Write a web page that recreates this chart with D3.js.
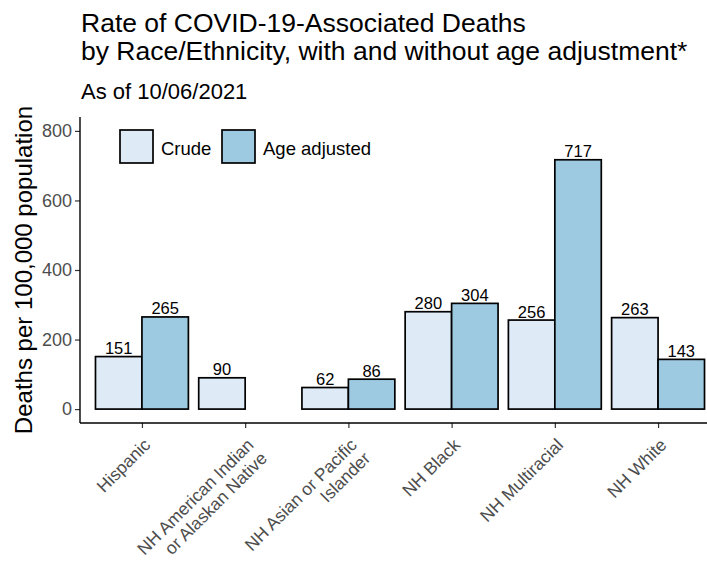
<!DOCTYPE html>
<html>
<head>
<meta charset="utf-8">
<script src="https://cdn.jsdelivr.net/npm/d3@7"></script>
<style>
  html, body { margin: 0; padding: 0; background: #fff; }
  svg { display: block; font-family: "Liberation Sans", Arial, sans-serif; }
</style>
</head>
<body>
<svg id="chart" width="707" height="566"></svg>
<script>
// Race/ethnicity groups (line breaks marked with \n)
const categories = [
  "Hispanic",
  "NH American Indian\nor Alaskan Native",
  "NH Asian or Pacific\nIslander",
  "NH Black",
  "NH Multiracial",
  "NH White"
];
const seriesNames = ["Crude", "Age adjusted"];
// Deaths per 100,000 population; null = not reported
const crude = [151, 90, 62, 280, 256, 263];
const ageAdjusted = [265, null, 86, 304, 717, 143];
const yTicks = [0, 200, 400, 600, 800];
const colors = ["#DEEBF7", "#9ECAE1"];

const svg = d3.select("#chart");
const panel = { left: 80, right: 720, top: 117, bottom: 423 };

// discrete x with 0.6-step expansion on each side
const step = (panel.right - panel.left) / (categories.length - 1 + 1.2);
const x = d3.scalePoint()
  .domain(categories)
  .range([panel.left + 0.6 * step, panel.right - 0.6 * step]);
const dodge = d3.scaleBand()
  .domain(seriesNames)
  .range([-0.45 * step, 0.45 * step])
  .padding(0);
const y = d3.scaleLinear().domain([-40, 840]).range([panel.bottom, panel.top]);

const rows = [];
categories.forEach((c, i) => {
  rows.push({ cat: c, series: seriesNames[0], value: crude[i], color: colors[0] });
  rows.push({ cat: c, series: seriesNames[1], value: ageAdjusted[i], color: colors[1] });
});
const present = rows.filter(d => d.value != null);

// bars
svg.append("g").selectAll("rect")
  .data(present)
  .join("rect")
  .attr("x", d => x(d.cat) + dodge(d.series))
  .attr("width", dodge.bandwidth())
  .attr("y", d => y(d.value))
  .attr("height", d => y(0) - y(d.value))
  .attr("fill", d => d.color)
  .attr("stroke", "#000")
  .attr("stroke-width", 1.7);

// value labels
svg.append("g").selectAll("text")
  .data(present)
  .join("text")
  .attr("x", d => x(d.cat) + dodge(d.series) + dodge.bandwidth() / 2)
  .attr("y", d => y(d.value) - 2.5)
  .attr("text-anchor", "middle")
  .attr("font-size", 16.5)
  .attr("fill", "#000")
  .text(d => d.value);

// y axis
const yAxis = svg.append("g")
  .attr("transform", `translate(${panel.left},0)`)
  .call(d3.axisLeft(y).tickValues(yTicks).tickSize(5).tickPadding(3));
yAxis.select(".domain").remove();
yAxis.append("line")
  .attr("x1", 0).attr("x2", 0)
  .attr("y1", panel.top).attr("y2", panel.bottom)
  .attr("stroke", "#000").attr("stroke-width", 1.4);
yAxis.selectAll(".tick line").attr("stroke", "#333").attr("stroke-width", 1.2);
yAxis.selectAll(".tick text")
  .attr("font-size", 18)
  .attr("fill", "#4D4D4D")
  .attr("font-family", "Liberation Sans, Arial, sans-serif");

// x axis
const xAxis = svg.append("g")
  .attr("transform", `translate(0,${panel.bottom})`)
  .call(d3.axisBottom(x).tickSize(5).tickPadding(4).tickFormat(""));
xAxis.select(".domain").remove();
xAxis.append("line")
  .attr("x1", panel.left).attr("x2", panel.right)
  .attr("y1", 0).attr("y2", 0)
  .attr("stroke", "#000").attr("stroke-width", 1.4);
xAxis.selectAll(".tick line").attr("stroke", "#333").attr("stroke-width", 1.2);

// rotated category labels; lines right-aligned, first line at the tick
const xLab = svg.append("g").selectAll("text")
  .data(categories)
  .join("text")
  .attr("transform", d => `translate(${x(d) + 9.5},${panel.bottom + 23}) rotate(-45)`)
  .attr("text-anchor", "end")
  .attr("font-size", 17.5)
  .attr("fill", "#4D4D4D");
xLab.each(function(d) {
  const t = d3.select(this);
  d.split("\n").forEach((ln, i) => {
    t.append("tspan")
      .attr("x", 0)
      .attr("y", i * 19)
      .text(ln);
  });
});

// y axis title
svg.append("text")
  .attr("transform", `translate(32,${(panel.top + panel.bottom) / 2}) rotate(-90)`)
  .attr("text-anchor", "middle")
  .attr("font-size", 24)
  .attr("fill", "#000")
  .text("Deaths per 100,000 population");

// title and subtitle
svg.append("text").attr("x", 81).attr("y", 32)
  .attr("font-size", 26.5).attr("fill", "#000")
  .text("Rate of COVID-19-Associated Deaths");
svg.append("text").attr("x", 81).attr("y", 60)
  .attr("font-size", 26.5).attr("fill", "#000")
  .text("by Race/Ethnicity, with and without age adjustment*");
svg.append("text").attr("x", 81).attr("y", 99)
  .attr("font-size", 22).attr("fill", "#000")
  .text("As of 10/06/2021");

// legend
const legend = svg.append("g").attr("transform", "translate(120,130)");
const legendX = [0, 102];
seriesNames.forEach((s, i) => {
  const g = legend.append("g").attr("transform", `translate(${legendX[i]},0)`);
  g.append("rect")
    .attr("width", 33).attr("height", 33)
    .attr("fill", colors[i]).attr("stroke", "#000").attr("stroke-width", 1.7);
  g.append("text")
    .attr("x", 41).attr("y", 25)
    .attr("font-size", 18.5).attr("fill", "#000")
    .text(s);
});
</script>
</body>
</html>
